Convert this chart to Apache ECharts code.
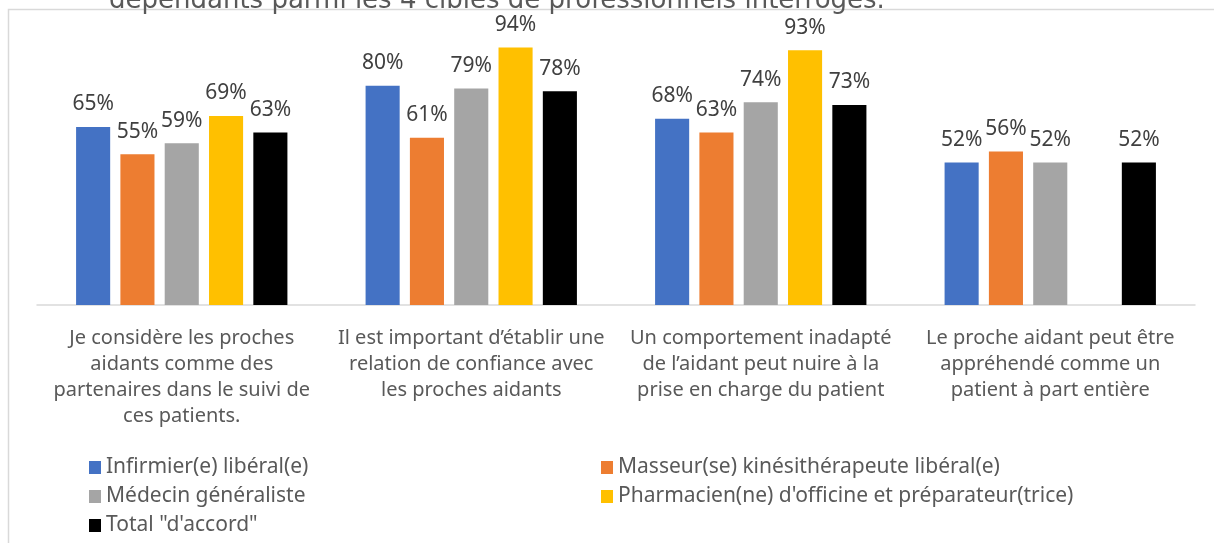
<!DOCTYPE html>
<html>
<head>
<meta charset="utf-8">
<script src="https://cdn.jsdelivr.net/npm/echarts@6/dist/echarts.min.js"></script>
<style>
  html, body { margin: 0; padding: 0; background: #fff; }
  #chart { width: 1214px; height: 543px; }
</style>
</head>
<body>
<div id="chart"></div>
<script>
const categories = [
  'Je considère les proches\naidants comme des\npartenaires dans le suivi de\nces patients.',
  'Il est important d’établir une\nrelation de confiance avec\nles proches aidants',
  'Un comportement inadapté\nde l’aidant peut nuire à la\nprise en charge du patient',
  'Le proche aidant peut être\nappréhendé comme un\npatient à part entière'
]
const infirmier = [65, 80, 68, 52]
const masseur = [55, 61, 63, 56]
const medecin = [59, 79, 74, 52]
const pharmacien = [69, 94, 93, null]
const total = [63, 78, 73, 52]

const SERIES = [
  { name: 'Infirmier(e) libéral(e)', data: infirmier, color: '#4472C4' },
  { name: 'Masseur(se) kinésithérapeute libéral(e)', data: masseur, color: '#ED7D31' },
  { name: 'Médecin généraliste', data: medecin, color: '#A5A5A5' },
  { name: "Pharmacien(ne) d'officine et préparateur(trice)", data: pharmacien, color: '#FFC000' },
  { name: 'Total "d\'accord"', data: total, color: '#000000' },
]

const FONT = '"Noto Sans", "Open Sans", sans-serif'
const chart = echarts.init(document.getElementById('chart'))

const legendText = { fontFamily: FONT, fontSize: 21, lineHeight: 20, color: '#595959' }

chart.setOption({
  animation: false,
  textStyle: { fontFamily: FONT },
  title: {
    text: 'dépendants parmi les 4 cibles de professionnels interrogés.',
    left: 104, top: -17,
    textStyle: { fontFamily: '"DejaVu Sans", sans-serif', fontWeight: 'normal', fontSize: 26, color: '#595959' }
  },
  graphic: [{
    type: 'rect', silent: true,
    shape: { x: 8.5, y: 9.5, width: 1300, height: 700 },
    style: { fill: 'none', stroke: '#d9d9d9', lineWidth: 1.5 }
  }],
  legend: [
    {
      orient: 'vertical', left: 89, top: 457, padding: 0, itemWidth: 12, itemHeight: 13, itemGap: 8,
      icon: 'rect', data: [SERIES[0].name, SERIES[2].name, SERIES[4].name],
      textStyle: legendText
    },
    {
      orient: 'vertical', left: 601, top: 457, padding: 0, itemWidth: 12, itemHeight: 13, itemGap: 8,
      icon: 'rect', data: [SERIES[1].name, SERIES[3].name],
      textStyle: legendText
    }
  ],
  grid: { left: 37, right: 19, top: 31, bottom: 238, containLabel: false },
  xAxis: {
    type: 'category', data: categories,
    axisLine: { lineStyle: { color: '#d9d9d9', width: 1.5 } },
    axisTick: { show: false },
    axisLabel: { interval: 0, margin: 20, fontSize: 20, lineHeight: 26, color: '#595959', fontFamily: FONT }
  },
  yAxis: { type: 'value', min: 0, max: 100, show: false, splitLine: { show: false } },
  series: SERIES.map(s => ({
    name: s.name, type: 'bar', data: s.data,
    barGap: '30%', barCategoryGap: '27%',
    itemStyle: { color: s.color },
    label: {
      show: true, position: 'top', distance: 12,
      formatter: p => p.value + '%',
      fontFamily: FONT, fontSize: 21, color: '#404040'
    }
  }))
})
</script>
</body>
</html>
